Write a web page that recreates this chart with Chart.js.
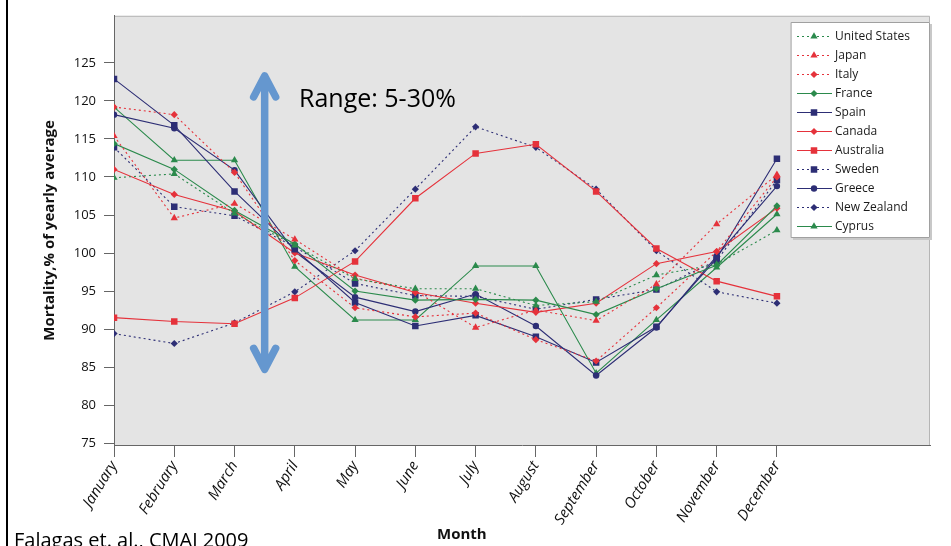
<!DOCTYPE html>
<html>
<head>
<meta charset="utf-8">
<script src="https://cdn.jsdelivr.net/npm/chart.js@4.4.0/dist/chart.umd.min.js"></script>
<style>
  html, body { margin: 0; padding: 0; background: #fff; }
  #wrap { position: relative; width: 951px; height: 546px; overflow: hidden; font-family: "Open Sans", sans-serif; }
  #mortalityChart { position: absolute; left: 0; top: 0; }
  #frame { position: absolute; left: 6px; top: 0; width: 2px; height: 546px; background: #000; }
  .note { position: absolute; white-space: nowrap; color: #000; line-height: 1; }
</style>
</head>
<body>
<div id="wrap">
  <canvas id="mortalityChart" width="951" height="546"></canvas>
  <div id="frame"></div>
  <div class="note" style="left:299px;top:85px;font-size:25px;">Range: 5-30%</div>
  <div class="note" style="left:437px;top:526px;font-size:15px;font-weight:bold;color:#111;">Month</div>
  <div class="note" style="left:14px;top:530px;font-size:20px;">Falagas et. al., CMAJ 2009</div>
</div>
<script>
//Month names on the X axis
const months = ['January', 'February', 'March', 'April', 'May', 'June', 'July', 'August', 'September', 'October', 'November', 'December'];
//Y axis tick labels
const yTicks = [75, 80, 85, 90, 95, 100, 105, 110, 115, 120, 125];

//Monthly mortality, % of yearly average
const unitedStates = [109.9, 110.4, 105.2, 101.0, 96.6, 95.3, 95.3, 93.1, 93.6, 97.1, 98.5, 103.0];
const japan        = [115.4, 104.6, 106.5, 101.8, 96.7, 95.0, 90.2, 92.5, 91.1, 95.9, 103.8, 110.3];
const italy        = [119.2, 118.2, 110.6, 99.0, 92.8, 91.6, 92.1, 88.6, 85.8, 92.8, 100.2, 110.0];
const france       = [114.4, 111.0, 105.6, 101.2, 95.0, 93.8, 93.9, 93.8, 91.9, 95.3, 98.4, 106.2];
const spain        = [122.9, 116.8, 108.1, 100.5, 93.5, 90.4, 91.8, 89.0, 85.6, 90.3, 99.3, 112.4];
const canada       = [111.0, 107.7, 105.5, 100.0, 97.1, 94.8, 93.4, 92.2, 93.4, 98.6, 100.2, 105.9];
const australia    = [91.5, 91.0, 90.7, 94.1, 98.9, 107.2, 113.1, 114.3, 108.1, 100.6, 96.3, 94.3];
const sweden       = [113.9, 106.1, 104.9, 100.8, 96.0, 94.4, 94.3, 92.6, 93.9, 95.2, 99.0, 109.6];
const greece       = [118.2, 116.4, 110.9, 100.2, 94.2, 92.3, 94.6, 90.4, 83.9, 90.2, 99.6, 108.8];
const newZealand   = [89.4, 88.1, 90.8, 94.9, 100.3, 108.4, 116.6, 113.9, 108.4, 100.3, 94.9, 93.4];
const cyprus       = [119.2, 112.2, 112.2, 98.2, 91.2, 91.2, 98.3, 98.3, 84.2, 91.2, 98.1, 105.1];

const NAVY = '#2d2e75';
const RED = '#e5323b';
const GREEN = '#2b8a4c';
const FONT = '"Open Sans", sans-serif';

//label, values, colour, dotted line?, marker
const seriesList = [
    ['United States', unitedStates, GREEN, true, 'triangle'],
    ['Japan', japan, RED, true, 'triangle'],
    ['Italy', italy, RED, true, 'rectRot'],
    ['France', france, GREEN, false, 'rectRot'],
    ['Spain', spain, NAVY, false, 'rect'],
    ['Canada', canada, RED, false, 'rectRot'],
    ['Australia', australia, RED, false, 'rect'],
    ['Sweden', sweden, NAVY, true, 'rect'],
    ['Greece', greece, NAVY, false, 'circle'],
    ['New Zealand', newZealand, NAVY, true, 'rectRot'],
    ['Cyprus', cyprus, GREEN, false, 'triangle'],
];

function markerRadius(style){
    if(style == 'rect') return 4.6;
    if(style == 'triangle') return 4.2;
    if(style == 'circle') return 3.2;
    return 3.6;
}

const chartDatasets = seriesList.map(([label, values, color, dotted, marker]) => ({
    label: label,
    data: values.map((v, i) => ({x: i, y: v})),
    borderColor: color,
    backgroundColor: color,
    borderWidth: 1.1,
    borderDash: dotted ? [2, 3] : [],
    pointStyle: marker,
    pointRadius: markerRadius(marker),
    pointBorderWidth: 0,
    tension: 0,
}));

//Gray plot background behind everything
const backdropPlugin = {
    id: 'backdrop',
    beforeDraw(chart){
        const {ctx, chartArea: a} = chart;
        ctx.save();
        ctx.fillStyle = '#e4e4e4';
        ctx.fillRect(a.left, a.top, a.right - a.left, a.bottom - a.top);
        ctx.strokeStyle = '#b5b5b5';
        ctx.lineWidth = 1;
        ctx.beginPath();
        ctx.moveTo(a.left, a.top + 0.5);
        ctx.lineTo(a.right - 0.5, a.top + 0.5);
        ctx.lineTo(a.right - 0.5, a.bottom);
        ctx.stroke();
        ctx.restore();
    }
};

//Blue double arrow and the boxed legend
const overlayPlugin = {
    id: 'overlay',
    afterDraw(chart){
        const {ctx} = chart;
        const xs = chart.scales.x, ys = chart.scales.y;
        ctx.save();
        //arrow
        const ax = xs.getPixelForValue(2.5);
        const top = ys.getPixelForValue(123.3);
        const bottom = ys.getPixelForValue(84.7);
        ctx.strokeStyle = '#6597cf';
        ctx.lineWidth = 7.5;
        ctx.lineCap = 'round';
        ctx.lineJoin = 'round';
        ctx.beginPath();
        ctx.moveTo(ax, top + 2);
        ctx.lineTo(ax, bottom - 2);
        ctx.moveTo(ax - 11, top + 21);
        ctx.lineTo(ax, top);
        ctx.lineTo(ax + 11, top + 21);
        ctx.moveTo(ax - 11, bottom - 21);
        ctx.lineTo(ax, bottom);
        ctx.lineTo(ax + 11, bottom - 21);
        ctx.stroke();

        //legend
        const lx = 791, ly = 22, lw = 139, lh = 216;
        ctx.fillStyle = '#c8c8c8';
        ctx.fillRect(lx + 2, ly + 2, lw, lh);
        ctx.fillStyle = '#fff';
        ctx.fillRect(lx, ly, lw, lh);
        ctx.strokeStyle = '#a0a0a0';
        ctx.lineWidth = 1;
        ctx.strokeRect(lx + 0.5, ly + 0.5, lw - 1, lh - 1);
        ctx.font = '12px ' + FONT;
        ctx.textBaseline = 'middle';
        chart.data.datasets.forEach((ds, index) => {
            const y = 36.5 + index * 19;
            ctx.strokeStyle = ds.borderColor;
            ctx.lineWidth = 1.1;
            ctx.lineCap = 'butt';
            ctx.setLineDash(ds.borderDash);
            ctx.beginPath();
            ctx.moveTo(797, y);
            ctx.lineTo(832, y);
            ctx.stroke();
            ctx.setLineDash([]);
            ctx.fillStyle = ds.backgroundColor;
            Chart.helpers.drawPoint(ctx, {pointStyle: ds.pointStyle, radius: ds.pointRadius, rotation: 0, borderWidth: 0}, 814, y);
            ctx.fillStyle = '#1a1a1a';
            ctx.fillText(ds.label, 835, y);
        });
        ctx.restore();
    }
};

var lineCanvas = document.getElementById('mortalityChart').getContext('2d');
var lineChart = new Chart(lineCanvas, {
    type: 'line',
    data: { datasets: chartDatasets },
    plugins: [backdropPlugin, overlayPlugin],
    options: {
        responsive: false,
        animation: false,
        layout: { padding: { top: 14, right: 21, left: 0, bottom: 0 } },
        plugins: { legend: { display: false }, tooltip: { enabled: false } },
        scales: {
            x: {
                type: 'linear',
                min: 0,
                max: 13.54,
                afterBuildTicks: scale => { scale.ticks = months.map((m, i) => ({value: i})); },
                afterFit: scale => { scale.height = 101; },
                grid: { drawOnChartArea: false, tickLength: 12, color: '#666' },
                border: { color: '#666', width: 1 },
                ticks: {
                    autoSkip: false,
                    minRotation: 58,
                    maxRotation: 58,
                    padding: 1,
                    color: '#111',
                    font: { family: FONT, size: 15, style: 'italic' },
                    callback: value => months[value],
                }
            },
            y: {
                min: 74.75,
                max: 131.2,
                afterBuildTicks: scale => { scale.ticks = yTicks.map(v => ({value: v})); },
                afterFit: scale => { scale.width = 114; },
                grid: { drawOnChartArea: false, tickLength: 10, color: '#666' },
                border: { color: '#666', width: 1 },
                ticks: { padding: 8, color: '#111', font: { family: FONT, size: 13 } },
                title: {
                    display: true,
                    text: 'Mortality,% of yearly average',
                    color: '#111',
                    font: { family: FONT, size: 15, weight: 'bold' },
                    padding: { top: 41, bottom: 0 },
                }
            }
        }
    }
});
</script>
</body>
</html>
